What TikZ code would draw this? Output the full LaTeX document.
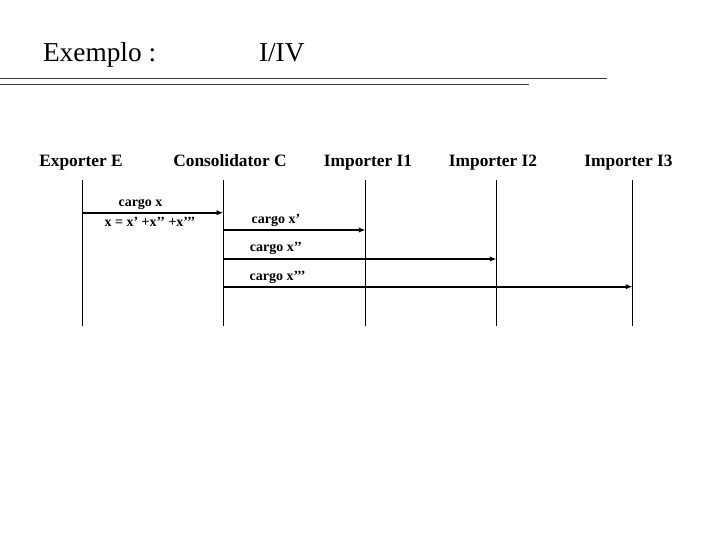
\documentclass[tikz,border=0pt]{standalone}
\usepackage{fontspec}
\setmainfont{Liberation Serif}
\usetikzlibrary{arrows.meta}
\definecolor{rulecol}{RGB}{55,55,80}
\tikzset{every picture/.style={line width=0.75pt}}

\begin{document}
\begin{tikzpicture}[x=0.75pt,y=0.75pt,yscale=-1,xscale=1,
  titletxt/.style={font=\fontsize{20.5}{24}\selectfont, inner sep=0pt, anchor=base west},
  head/.style={font=\fontsize{13}{15}\selectfont\bfseries, inner sep=0pt, anchor=base},
  lbl/.style={font=\fontsize{10.5}{12}\selectfont\bfseries, inner sep=0pt, anchor=base},
  life/.style={line width=0.75pt},
  msg/.style={line width=1.5pt, -{Latex[length=5pt,width=4pt]}}]
\useasboundingbox (0,0) rectangle (720,540);

% Title
\node[titletxt] (exemplo) at (42.5,61.7) {Exemplo :};
\node[titletxt] (page) at (258.5,61.7) {I/IV};
\draw [rulecol, line width=1pt] (0,78.3) -- (607,78.3) ;
\draw [rulecol, line width=1pt] (0,84.5) -- (529,84.5) ;

% Headers
\node[head] (hE) at (81,166.5) {Exporter E};
\node[head] (hC) at (230,166.5) {Consolidator C};
\node[head] (hI1) at (368,166.5) {Importer I1};
\node[head] (hI2) at (493,166.5) {Importer I2};
\node[head] (hI3) at (628.5,166.5) {Importer I3};

% Lifelines
\coordinate (Etop) at (82.3,180);   \coordinate (Ebot) at (82.3,326);
\coordinate (Ctop) at (223.3,180);  \coordinate (Cbot) at (223.3,326);
\coordinate (I1top) at (365.5,180); \coordinate (I1bot) at (365.5,326);
\coordinate (I2top) at (496.5,180); \coordinate (I2bot) at (496.5,326);
\coordinate (I3top) at (632.5,180); \coordinate (I3bot) at (632.5,326);
\draw [life] (Etop) -- (Ebot) ;
\draw [life] (Ctop) -- (Cbot) ;
\draw [life] (I1top) -- (I1bot) ;
\draw [life] (I2top) -- (I2bot) ;
\draw [life] (I3top) -- (I3bot) ;

% Messages
\coordinate (mE) at (82.3,212.7);  \coordinate (mC) at (223.3,212.7);
\draw [msg] (mE) -- (mC) ;
\coordinate (m1s) at (223.3,230);  \coordinate (m1e) at (365.5,230);
\draw [msg] (m1s) -- (m1e) ;
\coordinate (m2s) at (223.3,259);  \coordinate (m2e) at (496.5,259);
\draw [msg] (m2s) -- (m2e) ;
\coordinate (m3s) at (223.3,286.7); \coordinate (m3e) at (632.5,286.7);
\draw [msg] (m3s) -- (m3e) ;

% Labels
\node[lbl] (lx) at (140.5,206.5) {cargo x};
\node[lbl] (lsum) at (150,226) {x = x’ +x’’ +x’’’};
\node[lbl] (lx1) at (276,223.3) {cargo x’};
\node[lbl] (lx2) at (276,251.7) {cargo x’’};
\node[lbl] (lx3) at (277.5,280) {cargo x’’’};

\end{tikzpicture}
\end{document}
